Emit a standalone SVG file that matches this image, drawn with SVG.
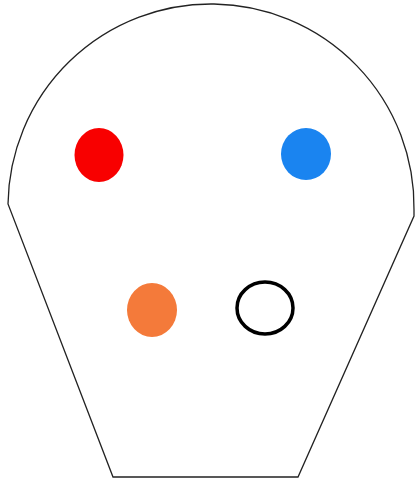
<svg xmlns="http://www.w3.org/2000/svg" width="416" height="480" viewBox="0 0 416 480">
<style>
.outline{fill:#fff;stroke:#222;stroke-width:1.3}
</style>
<rect width="416" height="480" fill="#fff"/>
<g id="head">
<path class="outline" d="M 8 204 A 203 203 0 0 1 414 210 L 414 216 L 298 477 L 113 477 Z"/>
</g>
<g id="red-dot"><ellipse cx="99" cy="155" rx="24.5" ry="27" fill="#f80000"/></g>
<g id="blue-dot"><ellipse cx="306" cy="154" rx="25" ry="26" fill="#1a84f0"/></g>
<g id="orange-dot"><ellipse cx="152" cy="310" rx="25" ry="27" fill="#f47a3a"/></g>
<g id="black-ring"><ellipse cx="265" cy="308" rx="28" ry="26" fill="none" stroke="#000" stroke-width="3.5"/></g>
<g id="connectors"></g>
</svg>
